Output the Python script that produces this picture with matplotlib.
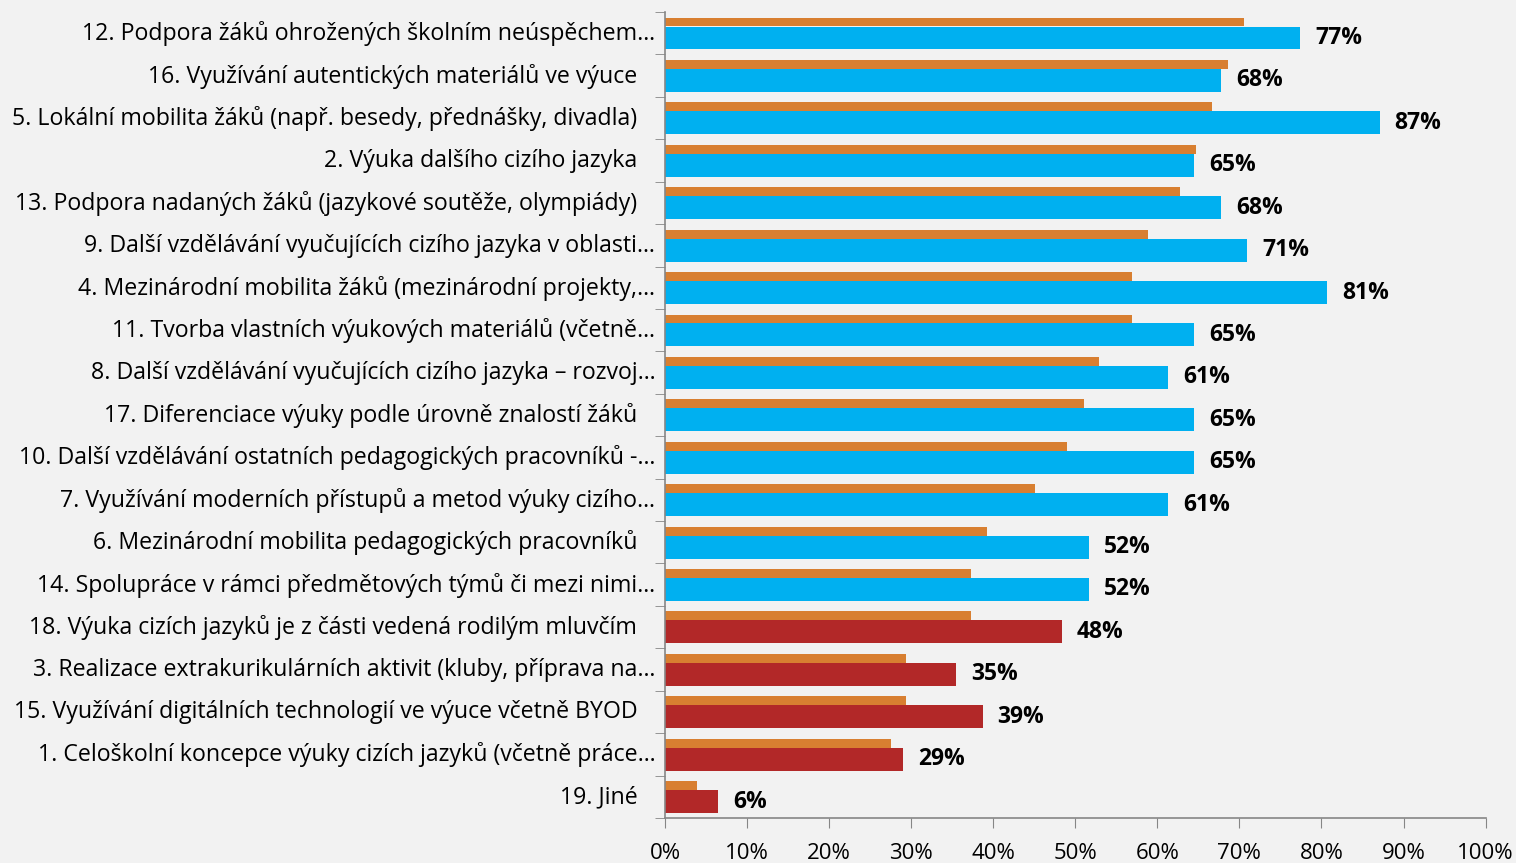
import numpy as np
import matplotlib
matplotlib.use("Agg")
import matplotlib.pyplot as plt
import matplotlib.transforms as mtransforms

# categories, top to bottom as shown
categories = [
    "12. Podpora žáků ohrožených školním neúspěchem…",
    "16. Využívání autentických materiálů ve výuce",
    "5. Lokální mobilita žáků (např. besedy, přednášky, divadla)",
    "2. Výuka dalšího cizího jazyka",
    "13. Podpora nadaných žáků (jazykové soutěže, olympiády)",
    "9. Další vzdělávání vyučujících cizího jazyka v oblasti…",
    "4. Mezinárodní mobilita žáků (mezinárodní projekty,…",
    "11. Tvorba vlastních výukových materiálů (včetně…",
    "8. Další vzdělávání vyučujících cizího jazyka – rozvoj…",
    "17. Diferenciace výuky podle úrovně znalostí žáků",
    "10. Další vzdělávání ostatních pedagogických pracovníků -…",
    "7. Využívání moderních přístupů a metod výuky cizího…",
    "6. Mezinárodní mobilita pedagogických pracovníků",
    "14. Spolupráce v rámci předmětových týmů či mezi nimi…",
    "18. Výuka cizích jazyků je z části vedená rodilým mluvčím",
    "3. Realizace extrakurikulárních aktivit (kluby, příprava na…",
    "15. Využívání digitálních technologií ve výuce včetně BYOD",
    "1. Celoškolní koncepce výuky cizích jazyků (včetně práce…",
    "19. Jiné",
]

# main series (percent) - labelled bars
main_vals = [77.42, 67.74, 87.10, 64.52, 67.74, 70.97, 80.65, 64.52, 61.29, 64.52,
             64.52, 61.29, 51.61, 51.61, 48.39, 35.48, 38.71, 29.03, 6.45]
# comparison series (percent) - thin orange bars
comp_vals = [70.6, 68.6, 66.7, 64.7, 62.7, 58.8, 56.9, 56.9, 52.9, 51.0,
             49.0, 45.1, 39.2, 37.3, 37.3, 29.4, 29.4, 27.5, 3.9]

x_ticks = [0, 10, 20, 30, 40, 50, 60, 70, 80, 90, 100]

BG = "#F2F2F2"
ORANGE = "#D87F31"
BLUE = "#00B0F0"
RED = "#B22828"
AXIS = "#868686"
FONT = "Open Sans"

fig = plt.figure(figsize=(15.16, 8.63), dpi=100, facecolor=BG)
ax = fig.add_axes([665 / 1516, 1 - 818 / 863, (1485.6 - 665) / 1516, (818 - 12) / 863])
ax.set_facecolor(BG)

y = np.arange(len(categories))
main_colors = [BLUE if v >= 50 else RED for v in main_vals]

ax.barh(y - 0.264, comp_vals, height=0.21, color=ORANGE, edgecolor="none")
ax.barh(y + 0.113, main_vals, height=0.54, color=main_colors, edgecolor="none")

for yi, v in zip(y, main_vals):
    ax.annotate(f"{round(v)}%", (v, yi + 0.113), xytext=(15, 0), textcoords="offset pixels",
                va="center", ha="left", fontsize=16.5, fontweight="bold",
                family=FONT, color="black")

ax.set_xlim(0, 100)
ax.set_ylim(len(categories) - 0.5, -0.5)

ax.set_xticks(x_ticks)
ax.set_xticklabels([f"{t}%" for t in x_ticks], family=FONT, fontsize=16)
ax.tick_params(axis="x", length=7, color=AXIS, pad=11)

ax.set_yticks(y)
ax.set_yticklabels(categories, family=FONT, fontsize=16.7)
ax.tick_params(axis="y", which="major", length=0, pad=7)
ax.set_yticks(np.arange(len(categories) + 1) - 0.5, minor=True)
ax.tick_params(axis="y", which="minor", length=7, color=AXIS)

# labels sit a touch high; the ones that were not cut off sit further left
for lab in ax.get_yticklabels():
    dx = 0 if lab.get_text().endswith("…") else -18
    shift = mtransforms.ScaledTranslation(dx / 100, 2.5 / 100, fig.dpi_scale_trans)
    lab.set_transform(lab.get_transform() + shift)

for s in ["top", "right"]:
    ax.spines[s].set_visible(False)
for s in ["left", "bottom"]:
    ax.spines[s].set_color(AXIS)
    ax.spines[s].set_linewidth(1.2)

fig.savefig("out.png", dpi=100, facecolor=BG)
